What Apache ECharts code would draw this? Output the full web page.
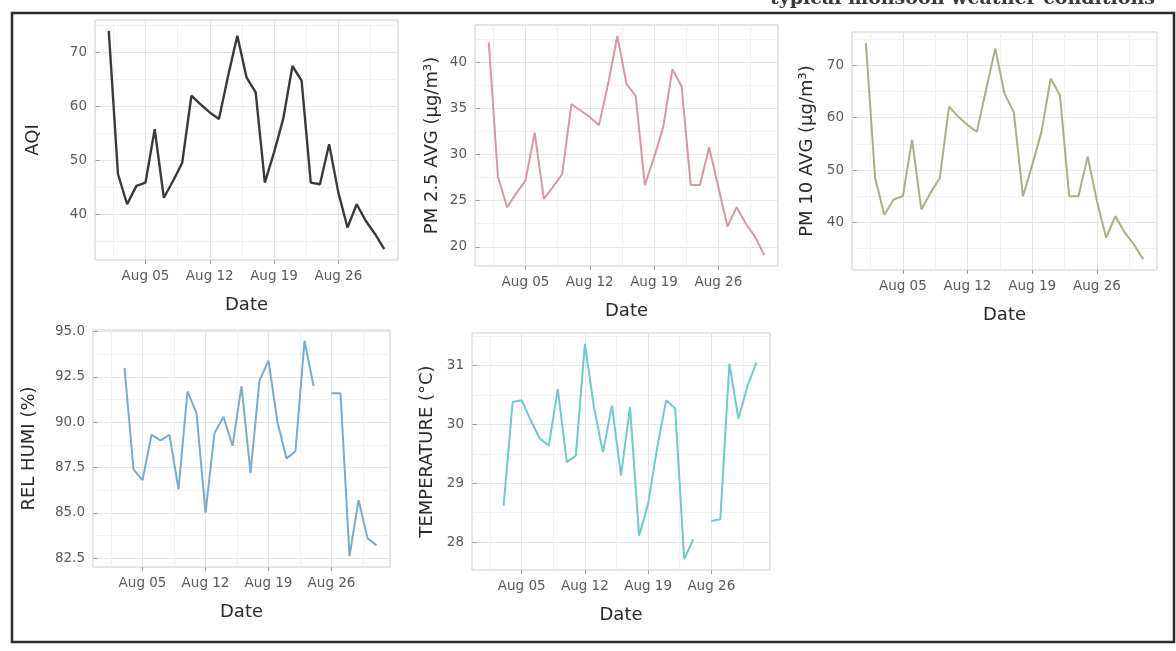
<!DOCTYPE html>
<html>
<head>
<meta charset="utf-8">
<script src="https://cdn.jsdelivr.net/npm/echarts@6/dist/echarts.min.js"></script>
<style>
  html, body { margin: 0; padding: 0; background: #fff; }
  #chart { width: 1176px; height: 651px; }
</style>
</head>
<body>
<div id="chart"></div>
<script>
// days of August
var days = [1, 2, 3, 4, 5, 6, 7, 8, 9, 10, 11, 12, 13, 14, 15, 16, 17, 18, 19, 20, 21, 22, 23, 24, 25, 26, 27, 28, 29, 30, 31];
var xTicks = [5, 12, 19, 26];
var xTickLabels = ['Aug 05', 'Aug 12', 'Aug 19', 'Aug 26'];
var xMinorTicks = [1.5, 8.5, 15.5, 22.5, 29.5];

var aqi  = [74.0, 47.5, 41.9, 45.3, 45.9, 55.8, 43.1, 46.2, 49.6, 62.0, 60.4, 58.9, 57.7, 65.7, 73.1, 65.4, 62.6, 45.9, 51.5, 57.7, 67.5, 64.8, 45.9, 45.6, 53.0, 44.1, 37.6, 41.9, 38.8, 36.4, 33.6];
var pm25 = [42.2, 27.6, 24.3, 25.8, 27.2, 32.4, 25.2, 26.5, 27.9, 35.5, 34.8, 34.1, 33.2, 37.7, 42.9, 37.7, 36.4, 26.7, 29.7, 33.0, 39.3, 37.4, 26.7, 26.7, 30.8, 26.5, 22.2, 24.3, 22.5, 21.1, 19.1];
var pm10 = [74.3, 48.5, 41.5, 44.4, 45.0, 55.8, 42.5, 45.7, 48.5, 62.1, 60.2, 58.6, 57.3, 65.3, 73.2, 64.6, 61.1, 45.0, 51.0, 57.3, 67.5, 64.3, 45.0, 45.0, 52.6, 44.1, 37.1, 41.2, 38.1, 35.8, 33.0];
var humi = [null, null, 93.0, 87.4, 86.8, 89.3, 89.0, 89.3, 86.3, 91.7, 90.5, 85.0, 89.4, 90.3, 88.7, 92.0, 87.2, 92.3, 93.4, 90.0, 88.0, 88.4, 94.5, 92.0, null, 91.6, 91.6, 82.6, 85.7, 83.6, 83.2];
var temp = [null, null, 28.62, 30.38, 30.41, 30.07, 29.76, 29.64, 30.6, 29.36, 29.47, 31.37, 30.3, 29.53, 30.32, 29.13, 30.3, 28.11, 28.65, 29.6, 30.41, 30.27, 27.71, 28.05, null, 28.36, 28.39, 31.03, 30.1, 30.65, 31.05];

// y tick labels (major) and minor grid positions per panel
var aqiTicks  = [40, 50, 60, 70],            aqiMinor  = [35, 45, 55, 65, 75];
var pm25Ticks = [20, 25, 30, 35, 40],        pm25Minor = [22.5, 27.5, 32.5, 37.5, 42.5];
var pm10Ticks = [40, 50, 60, 70],            pm10Minor = [35, 45, 55, 65, 75];
var humiTicks = [82.5, 85, 87.5, 90, 92.5, 95], humiMinor = [83.75, 86.25, 88.75, 91.25, 93.75];
var tempTicks = [28, 29, 30, 31],            tempMinor = [28.5, 29.5, 30.5, 31.5];

var FONT = 'DejaVu Sans';

// ggplot style 5% expansion
function expand(arr) {
    var v = arr.filter(function (d) { return d != null; });
    var lo = Math.min.apply(null, v), hi = Math.max.apply(null, v);
    var pad = (hi - lo) * 0.05;
    return [lo - pad, hi + pad];
}
var xRange = expand(days);

var panels = [
    { name: 'AQI', data: aqi, color: '#3a3a3a', lw: 2.4, ticks: aqiTicks, minor: aqiMinor, fmt: null,
      box: { left: 95, top: 20, width: 303, height: 240 }, gap: 53 },
    { name: 'PM 2.5 AVG (\u00b5g/m\u00b3)', data: pm25, color: '#d49aa3', lw: 2, ticks: pm25Ticks, minor: pm25Minor, fmt: null,
      box: { left: 475, top: 25, width: 303, height: 241 }, gap: 34 },
    { name: 'PM 10 AVG (\u00b5g/m\u00b3)', data: pm10, color: '#a6b188', lw: 2, ticks: pm10Ticks, minor: pm10Minor, fmt: null,
      box: { left: 852, top: 32, width: 305, height: 238 }, gap: 36 },
    { name: 'REL HUMI (%)', data: humi, color: '#7aabc9', lw: 2, ticks: humiTicks, minor: humiMinor, fmt: 1,
      box: { left: 93, top: 330, width: 297, height: 237 }, gap: 55 },
    { name: 'TEMPERATURE (\u00b0C)', data: temp, color: '#6fcaca', lw: 2, ticks: tempTicks, minor: tempMinor, fmt: null,
      box: { left: 472, top: 333, width: 298, height: 237 }, gap: 36 }
];

var grids = [], xAxes = [], yAxes = [], series = [];

panels.forEach(function (p, i) {
    var yr = expand(p.data);
    grids.push({
        left: p.box.left, top: p.box.top, width: p.box.width, height: p.box.height,
        show: true, borderColor: '#cdcdcd', borderWidth: 1, backgroundColor: '#fff'
    });
    // main x axis
    xAxes.push({
        gridIndex: i, type: 'value', min: xRange[0], max: xRange[1],
        name: 'Date', nameLocation: 'middle', nameGap: 36,
        nameTextStyle: { fontFamily: FONT, fontSize: 18, color: '#2a2a2a' },
        axisLine: { show: false },
        axisTick: { show: true, customValues: xTicks, length: 4, lineStyle: { color: '#9a9a9a' } },
        axisLabel: {
            customValues: xTicks, margin: 9, fontFamily: FONT, fontSize: 13.5, color: '#5a5a5a',
            formatter: function (v) { return xTickLabels[xTicks.indexOf(v)]; }
        },
        splitLine: { show: true, lineStyle: { color: '#e4e4e4', width: 1 } }
    });
    // minor x grid
    xAxes.push({
        gridIndex: i, type: 'value', min: xRange[0], max: xRange[1],
        axisLine: { show: false },
        axisTick: { show: false, customValues: xMinorTicks },
        axisLabel: { show: false, customValues: xMinorTicks },
        splitLine: { show: true, lineStyle: { color: '#f1f1f1', width: 1 } }
    });
    // main y axis
    yAxes.push({
        gridIndex: i, type: 'value', min: yr[0], max: yr[1],
        name: p.name, nameLocation: 'middle', nameGap: p.gap,
        nameTextStyle: { fontFamily: FONT, fontSize: 18, color: '#2a2a2a' },
        axisLine: { show: false },
        axisTick: { show: true, customValues: p.ticks, length: 4, lineStyle: { color: '#9a9a9a' } },
        axisLabel: {
            customValues: p.ticks, margin: 8, fontFamily: FONT, fontSize: 13.5, color: '#5a5a5a',
            formatter: (function (f) { return function (v) { return f ? v.toFixed(f) : String(v); }; })(p.fmt)
        },
        splitLine: { show: true, lineStyle: { color: '#e4e4e4', width: 1 } }
    });
    // minor y grid
    yAxes.push({
        gridIndex: i, type: 'value', min: yr[0], max: yr[1], position: 'left',
        axisLine: { show: false },
        axisTick: { show: false, customValues: p.minor },
        axisLabel: { show: false, customValues: p.minor },
        splitLine: { show: true, lineStyle: { color: '#f1f1f1', width: 1 } }
    });
    series.push({
        type: 'line',
        xAxisIndex: i * 2, yAxisIndex: i * 2,
        data: days.map(function (d, k) { return [d, p.data[k]]; }),
        showSymbol: false, connectNulls: false, animation: false,
        lineStyle: { color: p.color, width: p.lw },
        itemStyle: { color: p.color }
    });
});

var chart = echarts.init(document.getElementById('chart'));
chart.setOption({
    backgroundColor: '#fff',
    animation: false,
    grid: grids,
    xAxis: xAxes,
    yAxis: yAxes,
    series: series,
    graphic: [
        // outer figure frame
        { type: 'rect', shape: { x: 12, y: 13, width: 1162, height: 629 },
          style: { fill: null, stroke: '#2b2b2b', lineWidth: 2.5 }, silent: true },
        // caption line cut off by the top of the scan
        { type: 'text', left: 770, top: -10,
          style: { text: 'typical monsoon weather conditions', font: 'bold 19px "DejaVu Serif"', fill: '#3a3a3a' }, silent: true }
    ]
});
</script>
</body>
</html>
